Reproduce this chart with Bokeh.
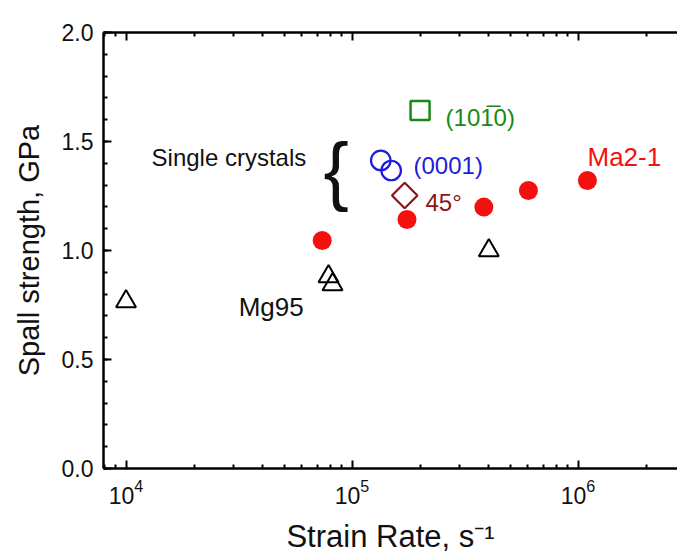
import numpy as np
from bokeh.plotting import figure
from bokeh.models import Range1d, FixedTicker, LogAxis, PrintfTickFormatter, Label
from bokeh.embed import file_html
from bokeh.resources import INLINE

# ---------------- data ----------------
mg95_rate = [1.0e4, 7.87e4, 8.2e4, 4.03e5]
mg95_spall = [0.766, 0.881, 0.844, 1.00]

ma21_rate = [7.38e4, 1.75e5, 3.83e5, 6.03e5, 1.10e6]
ma21_spall = [1.046, 1.142, 1.199, 1.275, 1.321]

c0001_rate = [1.34e5, 1.49e5]
c0001_spall = [1.413, 1.367]

c1010_rate = [2.0e5]
c1010_spall = [1.642]

c45_rate = [1.71e5]
c45_spall = [1.252]

x_major = [1e4, 1e5, 1e6]
x_minor = [m * 10.0 ** k for k in (3, 4, 5, 6) for m in range(2, 10)]
y_major = [0.0, 0.5, 1.0, 1.5, 2.0]
y_minor = [i / 10 for i in range(21)]

FONT = "Liberation Sans"
RED = "#f51010"
BLUE = "#1c1ce0"
GREEN = "#168a16"
DARKRED = "#8c1414"

p = figure(width=677, height=556, x_axis_type="log",
           x_range=Range1d(7.95e3, 2.754e6), y_range=Range1d(0.0, 2.0),
           output_backend="svg", toolbar_location=None,
           min_border_left=103, min_border_right=0,
           min_border_top=32, min_border_bottom=88)
p.grid.visible = False
p.outline_line_color = None
p.background_fill_color = "white"
p.border_fill_color = "white"

xt = FixedTicker(ticks=x_major, minor_ticks=x_minor)
yt = FixedTicker(ticks=y_major, minor_ticks=y_minor)


def style_axis(ax):
    ax.axis_line_width = 2.5
    ax.axis_line_color = "black"
    ax.major_tick_in = 8
    ax.major_tick_out = 0
    ax.minor_tick_in = 4
    ax.minor_tick_out = 0
    ax.major_tick_line_width = 2
    ax.minor_tick_line_width = 2
    ax.major_tick_line_color = "black"
    ax.minor_tick_line_color = "black"
    ax.major_label_text_font = FONT
    ax.major_label_text_font_size = "23px"
    ax.major_label_text_color = "#111111"
    ax.axis_label_text_font = FONT
    ax.axis_label_text_font_style = "normal"
    ax.axis_label_text_color = "#111111"


xa = p.xaxis[0]
xa.ticker = xt
style_axis(xa)
xa.major_label_standoff = 10
xa.axis_label = "Strain Rate, s\u207b\u00b9"
xa.axis_label_text_font_size = "31px"
xa.axis_label_standoff = 12

ya = p.yaxis[0]
ya.ticker = yt
ya.formatter = PrintfTickFormatter(format="%.1f")
style_axis(ya)
ya.major_label_standoff = 10
ya.axis_label = "Spall strength, GPa"
ya.axis_label_text_font_size = "29px"
ya.axis_label_standoff = 14

top = LogAxis(ticker=FixedTicker(ticks=x_major, minor_ticks=x_minor))
style_axis(top)
top.major_label_text_font_size = "2px"
top.major_label_text_color = None
top.major_label_standoff = 0
p.add_layout(top, "above")

# ---------------- markers ----------------
p.scatter(mg95_rate, mg95_spall, marker="triangle", size=20,
          fill_color=None, line_color="black", line_width=2)
p.scatter(ma21_rate, ma21_spall, marker="circle", size=19,
          fill_color=RED, line_color=None)
p.scatter(c0001_rate, c0001_spall, marker="circle", size=19.5,
          fill_color=None, line_color=BLUE, line_width=2.2)
p.scatter(c1010_rate, c1010_spall, marker="square", size=19,
          fill_color=None, line_color=GREEN, line_width=2.5)
p.scatter(c45_rate, c45_spall, marker="square", size=18, angle=np.pi / 4,
          fill_color=None, line_color=DARKRED, line_width=2.2)


# ---------------- annotations ----------------
def lab(x, y, text, size, color="#111111", align="left", **kw):
    p.add_layout(Label(x=x, y=y, text=text, text_font=FONT,
                       text_font_size=size, text_color=color,
                       text_baseline="alphabetic", text_align=align, **kw))


lab(1.297e4, 1.427, "Single crystals", "24px")
lab(7.48e4, 1.372, "{", "76px")
lab(2.593e5, 1.610, "(101\u03050)", "24px", GREEN)
lab(1.871e5, 1.390, "(0001)", "24px", BLUE)
lab(2.113e5, 1.222, "45\u00b0", "24px", DARKRED)
lab(1.101e6, 1.431, "Ma2-1", "26px", RED)
lab(3.15e4, 0.739, "Mg95", "26px")

open("out.html", "w").write(file_html(p, INLINE))
